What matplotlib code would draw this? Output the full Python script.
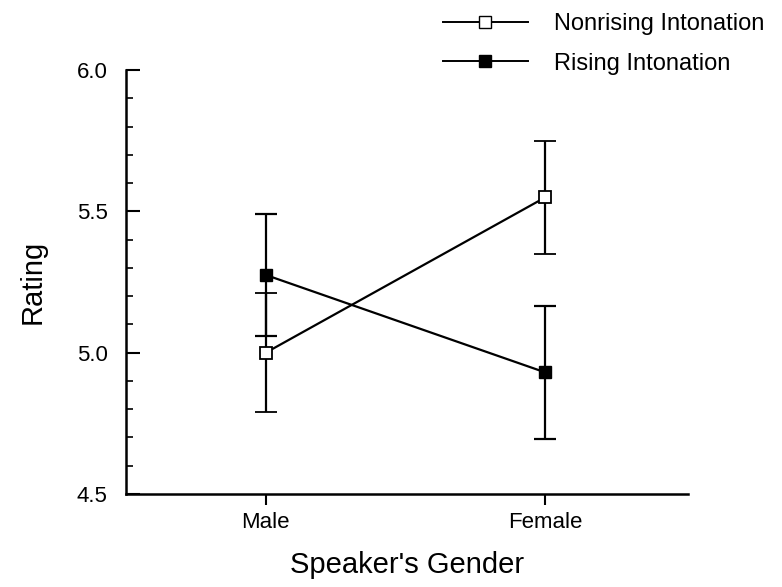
import matplotlib.pyplot as plt
import matplotlib.ticker as mticker
from matplotlib.lines import Line2D

plt.rcParams["font.family"] = ["Liberation Sans", "DejaVu Sans"]

genders = ["Male", "Female"]
nonrising = [5.00, 5.55]
nonrising_err = [0.21, 0.20]
rising = [5.275, 4.93]
rising_err = [0.215, 0.235]

fig = plt.figure(figsize=(7.82, 5.87), dpi=100)
ax = fig.add_axes([0.161, 0.1584, 0.719, 0.7223])

xs = range(len(genders))
ax.errorbar(xs, rising, yerr=rising_err, color="black", lw=1.6, capsize=8,
            capthick=1.6, marker="s", ms=9, mfc="black", mec="black", zorder=3)
ax.errorbar(xs, nonrising, yerr=nonrising_err, color="black", lw=1.6, capsize=8,
            capthick=1.6, marker="s", ms=9, mfc="white", mec="black", mew=1.3, zorder=4)

ax.set_xlim(-0.5, 1.51)
ax.set_ylim(4.5, 6.0)
ax.set_xticks(list(xs))
ax.set_xticklabels(genders, fontsize=16)
ax.set_yticks([4.5, 5.0, 5.5, 6.0])
ax.yaxis.set_major_formatter(mticker.FormatStrFormatter("%.1f"))
ax.yaxis.set_minor_locator(mticker.MultipleLocator(0.1))
ax.tick_params(axis="y", which="major", direction="in", length=10, width=1.5,
               labelsize=16, pad=13)
ax.tick_params(axis="y", which="minor", direction="in", length=5, width=1.2)
ax.tick_params(axis="x", which="major", direction="out", length=8, width=1.5,
               labelsize=16, pad=5)
ax.spines[["top", "right"]].set_visible(False)
ax.spines[["left", "bottom"]].set_linewidth(1.8)

ax.set_xlabel("Speaker's Gender", fontsize=21, labelpad=13)
ax.set_ylabel("Rating", fontsize=21, labelpad=22)

handles = [
    Line2D([], [], color="black", lw=1.4, marker="s", ms=9, mfc="white", mec="black"),
    Line2D([], [], color="black", lw=1.4, marker="s", ms=9, mfc="black", mec="black"),
]
fig.legend(handles, ["Nonrising Intonation", "Rising Intonation"], loc="upper left",
           bbox_to_anchor=(0.566, 0.978), frameon=False, fontsize=17,
           borderpad=0, borderaxespad=0, handlelength=3.6, handletextpad=1.1,
           labelspacing=0.75)

fig.savefig("out.png", dpi=100)
